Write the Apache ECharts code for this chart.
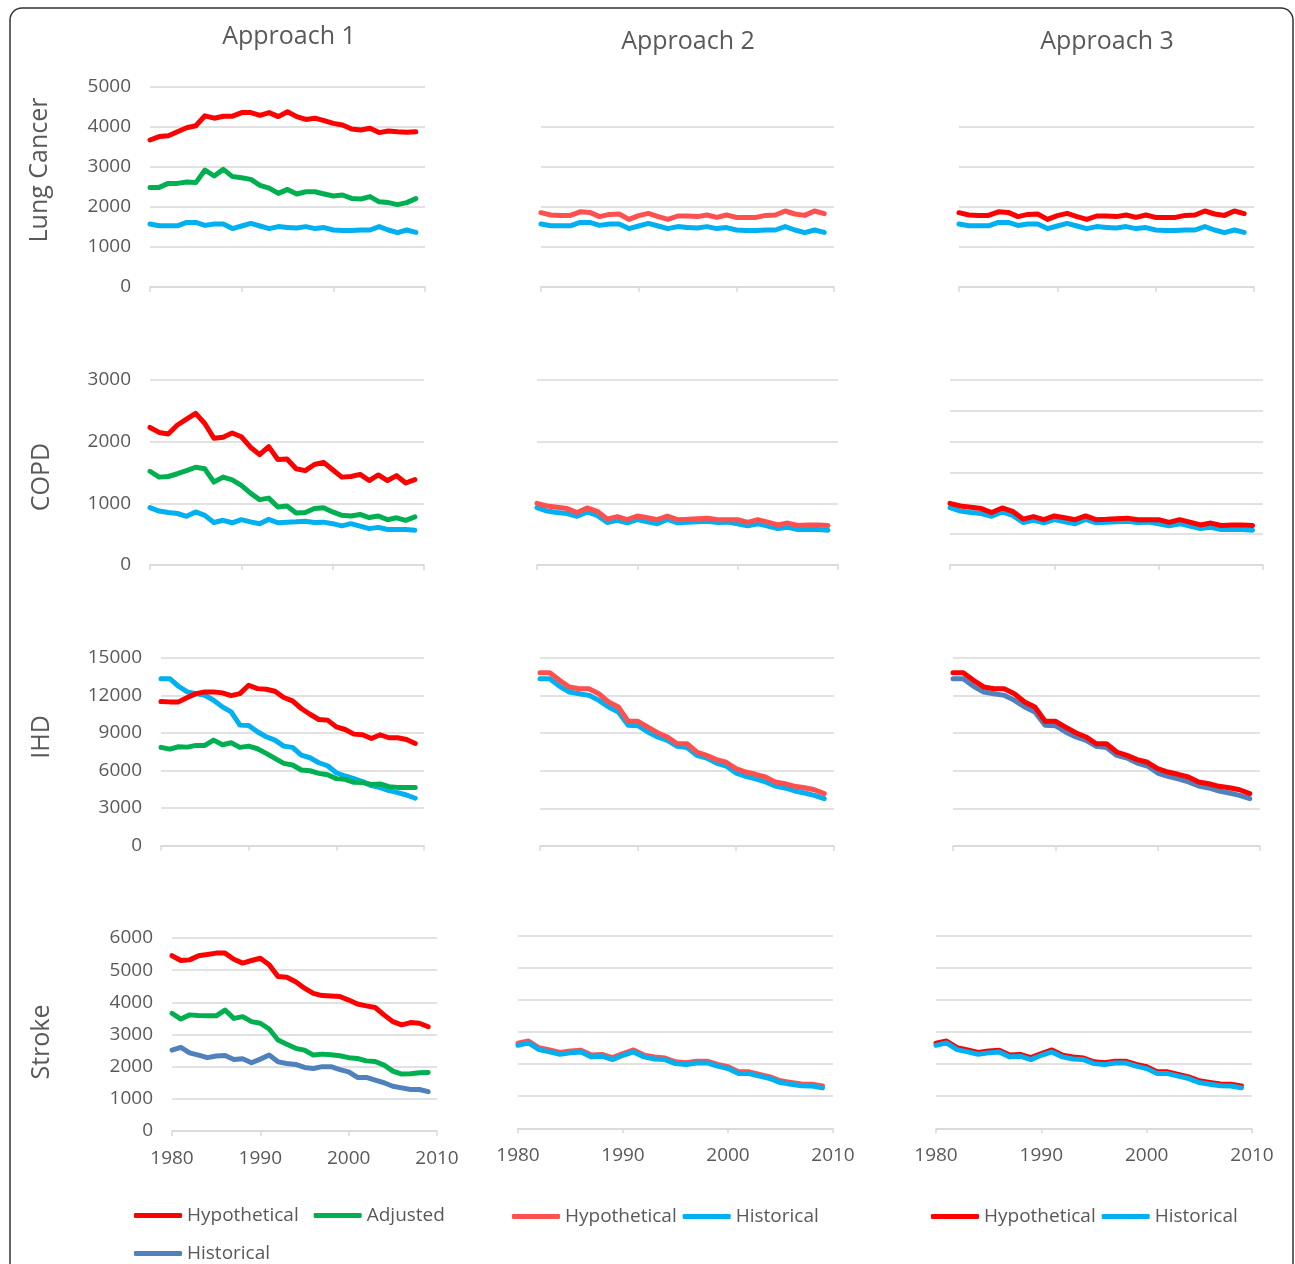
<!DOCTYPE html>
<html><head><meta charset="utf-8">
<script src="https://cdn.jsdelivr.net/npm/echarts@6/dist/echarts.min.js"></script>
<style>html,body{margin:0;padding:0;background:#fff}#c{width:1295px;height:1264px}</style>
</head><body><div id="c"></div>
<script>
const years = [1980,1981,1982,1983,1984,1985,1986,1987,1988,1989,1990,1991,1992,1993,1994,1995,1996,1997,1998,1999,2000,2001,2002,2003,2004,2005,2006,2007,2008,2009];
const colTitles = ['Approach 1','Approach 2','Approach 3'];
const rowTitles = ['Lung Cancer','COPD','IHD','Stroke'];
const xTicks = [1980,1990,2000,2010];

const lungHyp1 = [3675,3760,3780,3880,3980,4030,4280,4220,4270,4270,4360,4360,4290,4360,4260,4380,4260,4190,4220,4160,4090,4050,3950,3925,3970,3860,3900,3880,3870,3880];
const lungAdj1 = [2490,2490,2590,2590,2625,2610,2925,2775,2940,2760,2730,2690,2540,2470,2340,2440,2325,2380,2380,2325,2275,2300,2215,2200,2260,2130,2110,2060,2110,2210];
const lungHist = [1575,1530,1530,1530,1615,1615,1540,1575,1575,1460,1525,1590,1525,1460,1510,1490,1475,1510,1460,1485,1425,1410,1410,1425,1425,1510,1425,1360,1425,1365];
const lungHyp2 = [1858,1800,1790,1790,1880,1865,1760,1815,1825,1690,1785,1840,1760,1690,1775,1775,1760,1800,1740,1800,1740,1740,1740,1790,1800,1900,1825,1790,1900,1835];

const copdHyp1 = [2230,2150,2125,2270,2365,2460,2295,2055,2070,2140,2080,1910,1790,1920,1710,1720,1560,1530,1630,1665,1545,1425,1435,1470,1370,1460,1370,1450,1330,1385];
const copdAdj1 = [1520,1425,1435,1480,1530,1585,1560,1345,1425,1380,1290,1165,1060,1085,940,955,845,850,915,930,860,805,795,820,770,795,735,765,725,780];
const copdHist = [930,875,850,835,790,860,805,690,725,685,735,700,670,740,685,695,700,710,690,695,670,635,670,630,590,610,575,575,575,565];
const copdHyp2 = [1000,957,935,915,850,925,870,745,785,735,795,765,735,795,735,740,750,760,735,735,735,690,735,695,650,680,640,650,650,640];

const ihdHyp1 = [11520,11490,11490,11840,12150,12290,12290,12210,11990,12150,12820,12550,12500,12340,11840,11570,10960,10500,10080,10030,9490,9280,8910,8860,8560,8860,8620,8620,8480,8160];
const ihdAdj1 = [7850,7710,7900,7870,8010,8010,8430,8060,8220,7850,7950,7740,7370,6970,6570,6440,6040,5980,5770,5660,5350,5290,5050,5030,4890,4920,4710,4650,4650,4650];
const ihdHist = [13350,13350,12740,12290,12150,12020,11620,11090,10690,9630,9600,9100,8700,8430,7950,7850,7230,7020,6620,6380,5820,5560,5350,5110,4790,4630,4390,4230,4040,3780];
const ihdHyp2 = [13830,13830,13220,12690,12550,12550,12150,11490,11090,9950,9950,9490,9040,8700,8160,8160,7500,7230,6890,6680,6170,5900,5720,5505,5110,4970,4760,4650,4490,4180];

const strokeHyp1 = [5450,5300,5320,5450,5490,5530,5530,5340,5220,5300,5370,5170,4800,4780,4640,4440,4280,4210,4200,4180,4070,3950,3890,3840,3610,3400,3300,3370,3350,3240];
const strokeAdj1 = [3660,3480,3610,3590,3580,3580,3760,3500,3555,3400,3350,3170,2830,2700,2570,2515,2360,2390,2370,2340,2280,2255,2180,2160,2050,1860,1770,1780,1810,1820];
const strokeHist1 = [2515,2600,2430,2360,2280,2330,2350,2225,2245,2120,2235,2360,2150,2100,2070,1975,1945,2000,2000,1910,1840,1665,1665,1580,1500,1390,1340,1290,1290,1225];
const strokeHist2 = [2585,2660,2450,2380,2305,2350,2380,2225,2245,2140,2275,2380,2225,2160,2140,2015,1985,2035,2035,1935,1860,1705,1705,1625,1550,1425,1375,1325,1315,1260];
const strokeHyp2 = [2650,2720,2510,2440,2360,2410,2430,2280,2300,2200,2330,2440,2280,2220,2190,2070,2040,2090,2090,1990,1920,1760,1760,1680,1600,1480,1430,1380,1370,1320];

const RED = '#FF0000', GREEN = '#00B050', LBLUE = '#00B0F0', STEEL = '#4F81BD', LRED = '#FF5050';
const FONT = 'Open Sans';
const TXT = '#595959';
const GRIDC = '#D9D9D9';

const grids = [], xAxes = [], yAxes = [], series = [];
function panel(box, yMax, yInt, showY, showX, lines) {
  const idx = grids.length;
  grids.push({left: box[0], top: box[1], width: box[2], height: box[3], containLabel: false});
  xAxes.push({type: 'value', gridIndex: idx, min: 1980, max: 2010, interval: 10,
    axisLine: {show: true, lineStyle: {color: GRIDC, width: 1.5}},
    axisTick: {show: true, length: 5, lineStyle: {color: GRIDC, width: 1.5}},
    splitLine: {show: false},
    axisLabel: {show: showX, margin: 18, color: TXT, fontSize: 19, fontFamily: FONT, formatter: v => String(v)}});
  yAxes.push({type: 'value', gridIndex: idx, min: 0, max: yMax, interval: yInt,
    axisLine: {show: false}, axisTick: {show: false},
    splitLine: {show: true, lineStyle: {color: GRIDC, width: 1.5}},
    axisLabel: {show: showY, margin: 19, color: TXT, fontSize: 19, fontFamily: FONT, formatter: v => String(v)}});
  lines.forEach(([name, arr, color, z]) => {
    series.push({type: 'line', name, xAxisIndex: idx, yAxisIndex: idx, z: z || 2,
      data: years.map((yr, i) => [yr, arr[i]]),
      symbol: 'none', showSymbol: false, silent: true, animation: false,
      itemStyle: {color}, lineStyle: {color, width: 5, cap: 'round', join: 'round'}});
  });
}

// Row 1: Lung cancer
panel([150, 87, 275, 200], 5000, 1000, true, false, [['Hypothetical', lungHyp1, RED], ['Adjusted', lungAdj1, GREEN], ['Historical', lungHist, LBLUE]]);
panel([541, 127, 293, 160], 4000, 1000, false, false, [['Hypothetical', lungHyp2, LRED, 2], ['Historical', lungHist, LBLUE, 3]]);
panel([959, 127, 295, 160], 4000, 1000, false, false, [['Historical', lungHist, LBLUE, 2], ['Hypothetical', lungHyp2, RED, 3]]);
// Row 2: COPD
panel([150, 380, 274, 185], 3000, 1000, true, false, [['Hypothetical', copdHyp1, RED], ['Adjusted', copdAdj1, GREEN], ['Historical', copdHist, LBLUE]]);
panel([537, 380, 301, 185], 3000, 1000, false, false, [['Historical', copdHist, LBLUE, 2], ['Hypothetical', copdHyp2, LRED, 3]]);
panel([950, 380, 313, 185], 3000, 500, false, false, [['Historical', copdHist, LBLUE, 2], ['Hypothetical', copdHyp2, RED, 3]]);
// Row 3: IHD
panel([161, 658, 263, 187.5], 15000, 3000, true, false, [['Historical', ihdHist, LBLUE], ['Adjusted', ihdAdj1, GREEN], ['Hypothetical', ihdHyp1, RED]]);
panel([540, 658, 294, 188], 15000, 3000, false, false, [['Historical', ihdHist, LBLUE, 2], ['Hypothetical', ihdHyp2, LRED, 3]]);
panel([953, 658, 307, 188], 15000, 3000, false, false, [['Historical', ihdHist, STEEL, 2], ['Hypothetical', ihdHyp2, RED, 3]]);
// Row 4: Stroke
panel([172, 938, 265, 193], 6000, 1000, true, true, [['Hypothetical', strokeHyp1, RED], ['Adjusted', strokeAdj1, GREEN], ['Historical', strokeHist1, STEEL]]);
panel([518, 935.7, 315, 192.6], 6000, 1000, false, true, [['Hypothetical', strokeHyp2, LRED, 2], ['Historical', strokeHist2, LBLUE, 3]]);
panel([936, 935.7, 316, 192.6], 6000, 1000, false, true, [['Hypothetical', strokeHyp2, RED, 2], ['Historical', strokeHist2, LBLUE, 3]]);

function legend(left, top, items, gap) {
  return {left, top, orient: 'horizontal', icon: 'roundRect', itemWidth: 48, itemHeight: 5, itemGap: gap,
    padding: 0, selectedMode: false,
    textStyle: {color: TXT, fontSize: 19, fontFamily: FONT},
    data: items.map(([name, color]) => ({name, itemStyle: {color, borderWidth: 0}, lineStyle: {color}}))};
}

const titles = [
  {text: colTitles[0], left: 284, top: 19},
  {text: colTitles[1], left: 683, top: 24},
  {text: colTitles[2], left: 1102, top: 24}
].map(t => ({text: t.text, left: t.left, top: t.top, textAlign: 'center',
  textStyle: {color: TXT, fontSize: 25, fontWeight: 'normal', fontFamily: FONT}}));

const rowPos = [[40, 170], [42, 477], [42, 737], [42, 1042]];
const graphics = rowTitles.map((t, i) => ({type: 'text', x: rowPos[i][0], y: rowPos[i][1], rotation: Math.PI / 2,
  style: {text: t, fill: TXT, font: '25px "Open Sans"', textAlign: 'center', textVerticalAlign: 'middle'}}));
graphics.push({type: 'rect', shape: {x: 10, y: 8, width: 1283, height: 1290, r: 12},
  style: {fill: 'none', stroke: '#333333', lineWidth: 1.5}, z: 100});

const chart = echarts.init(document.getElementById('c'), null, {renderer: 'canvas'});
chart.setOption({
  animation: false,
  backgroundColor: '#ffffff',
  title: titles,
  grid: grids, xAxis: xAxes, yAxis: yAxes, series,
  legend: [
    legend(134, 1206, [['Hypothetical', RED], ['Adjusted', GREEN]], 15),
    legend(134, 1244, [['Historical', STEEL]], 15),
    legend(512, 1207, [['Hypothetical', LRED], ['Historical', LBLUE]], 6),
    legend(931, 1207, [['Hypothetical', RED], ['Historical', LBLUE]], 6)
  ],
  graphic: graphics
});
</script></body></html>
